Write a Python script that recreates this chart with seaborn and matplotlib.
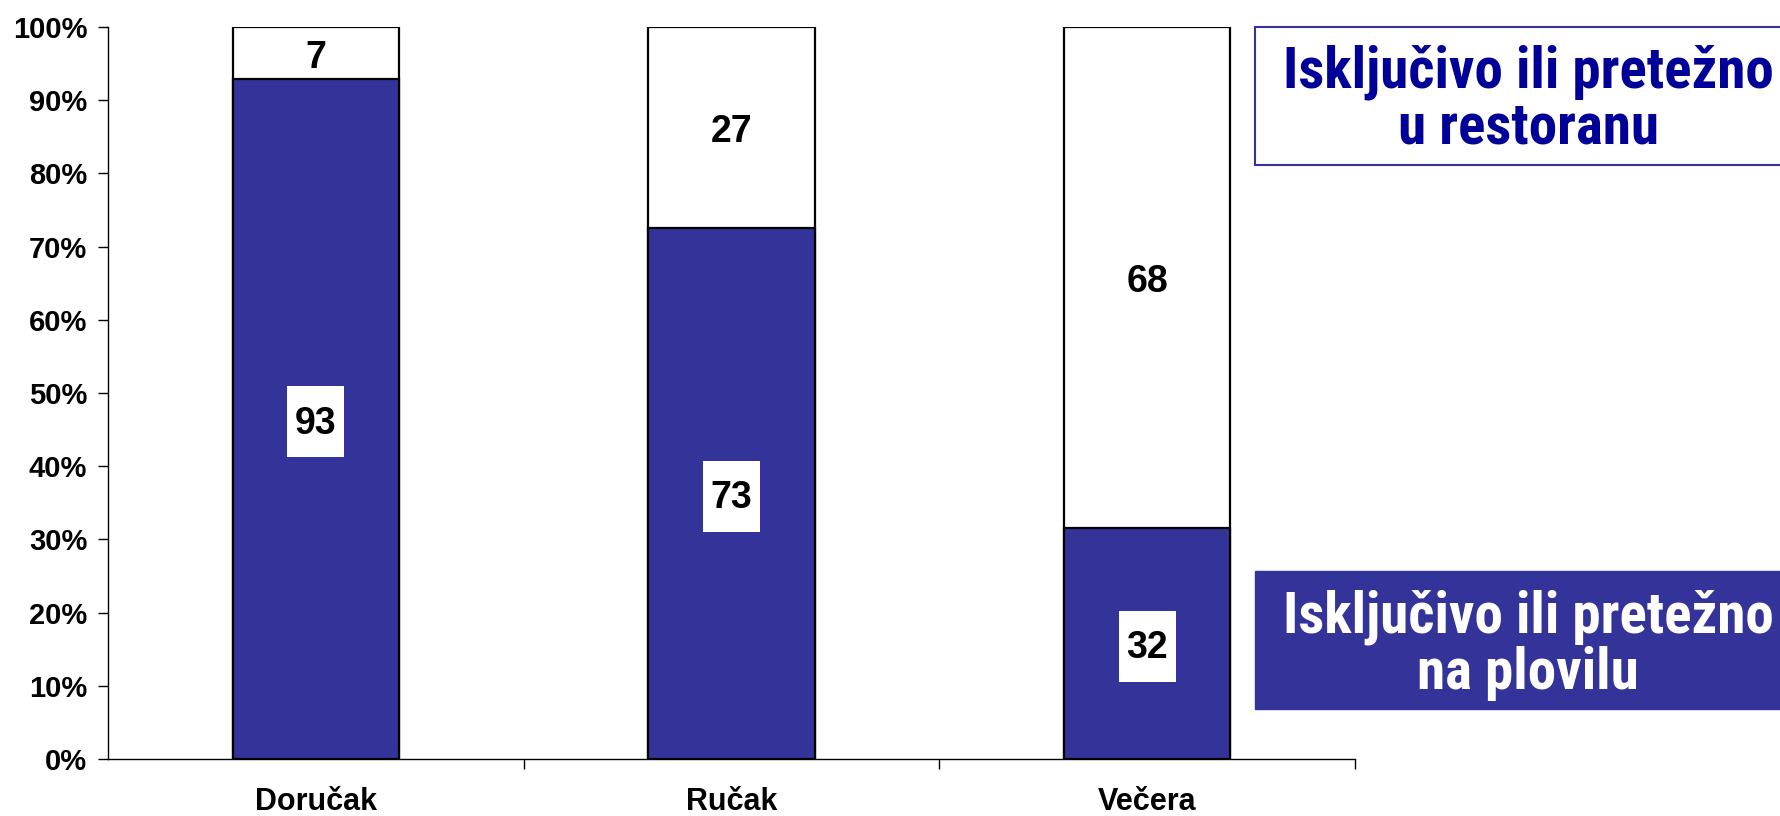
import matplotlib
matplotlib.use("Agg")
import matplotlib.pyplot as plt
from matplotlib.patches import Rectangle
from matplotlib.transforms import ScaledTranslation
from matplotlib.ticker import FixedLocator, PercentFormatter
import seaborn as sns
import pandas as pd

# ---- data ----
categories = ["Doručak", "Ručak", "Večera"]
na_plovilu = [92.9, 72.6, 31.6]      # Isključivo ili pretežno na plovilu
u_restoranu = [7.1, 27.4, 68.4]      # Isključivo ili pretežno u restoranu
legend_restoran = "Isključivo ili pretežno\nu restoranu"
legend_plovilo = "Isključivo ili pretežno\nna plovilu"
y_ticks = [0, 10, 20, 30, 40, 50, 60, 70, 80, 90, 100]

BLUE = "#333399"
DARK_BLUE = "#000099"

sns.set_style("white")
plt.rcParams["font.family"] = ["Liberation Sans", "DejaVu Sans"]
for k in ["text.color", "xtick.color", "ytick.color", "axes.labelcolor", "axes.edgecolor"]:
    plt.rcParams[k] = "black"

df = pd.DataFrame({
    "obrok": categories,
    "plovilo": na_plovilu,
    "restoran": u_restoranu,
})
df["ukupno"] = df["plovilo"] + df["restoran"]

fig = plt.figure(figsize=(17.8, 8.16), dpi=100)
ax = fig.add_axes([108 / 1780, 57 / 816, (1355 - 108) / 1780, 732 / 816])

sns.barplot(data=df, x="obrok", y="ukupno", color="white", saturation=1,
            edgecolor="black", linewidth=1.6, width=0.4, ax=ax)
sns.barplot(data=df, x="obrok", y="plovilo", color=BLUE, saturation=1,
            edgecolor="black", linewidth=1.6, width=0.4, ax=ax)

ax.set_xlim(-0.5, 2.5)
ax.set_ylim(0, 100)
ax.set_xlabel("")
ax.set_ylabel("")

LABEL_SIZE = 27
def value_label(x, y, txt, boxed):
    if boxed:
        tr = fig.dpi_scale_trans + ScaledTranslation(x, y, ax.transData)
        ax.add_patch(Rectangle((-0.285, -0.385), 0.57, 0.71, transform=tr,
                               facecolor="white", edgecolor="none", zorder=4))
    ax.annotate(txt, (x, y), xytext=(0, -0.36 * LABEL_SIZE - 1), textcoords="offset points",
                ha="center", va="baseline", fontsize=LABEL_SIZE, fontweight="bold",
                color="black", zorder=5)

for i, (b, w) in enumerate(zip(na_plovilu, u_restoranu)):
    value_label(i, b / 2, f"{round(b)}", True)
    value_label(i, b + w / 2, f"{round(w)}", False)

# axes styling
for s in ["top", "right"]:
    ax.spines[s].set_visible(False)
for s in ["left", "bottom"]:
    ax.spines[s].set_color("black")
    ax.spines[s].set_linewidth(1.0)

ax.yaxis.set_major_locator(FixedLocator(y_ticks))
ax.yaxis.set_major_formatter(PercentFormatter(decimals=0))
ax.tick_params(axis="y", direction="out", length=7, width=1, pad=8,
               labelsize=21, left=True, colors="black")
for lab in ax.get_yticklabels():
    lab.set_fontweight("bold")

ax.tick_params(axis="x", which="major", length=0, pad=20, labelsize=22, colors="black")
for lab in ax.get_xticklabels():
    lab.set_fontweight("bold")
ax.xaxis.set_minor_locator(FixedLocator([0.5, 1.5, 2.5]))
ax.tick_params(axis="x", which="minor", direction="out", length=7, width=1, bottom=True)

# legend boxes
leg_family = ["Roboto Condensed", "Liberation Sans", "DejaVu Sans"]
leg_size = 41
fig.patches.append(Rectangle((1255 / 1780, 1 - 165 / 816), 0.4, 138 / 816,
                             transform=fig.transFigure, facecolor="white",
                             edgecolor=BLUE, linewidth=1.5, zorder=1))
fig.patches.append(Rectangle((1255 / 1780, 1 - 709 / 816), 0.4, 138 / 816,
                             transform=fig.transFigure, facecolor=BLUE,
                             edgecolor=BLUE, linewidth=1.0, zorder=1))
fig.text(1528 / 1780, 1 - 100 / 816, legend_restoran, ha="center", va="center",
         color=DARK_BLUE, fontsize=leg_size, fontweight="bold", family=leg_family,
         linespacing=1.02)
fig.text(1528 / 1780, 1 - 645 / 816, legend_plovilo, ha="center", va="center",
         color="white", fontsize=leg_size, fontweight="bold", family=leg_family,
         linespacing=1.02)

fig.savefig("out.png", dpi=100)
